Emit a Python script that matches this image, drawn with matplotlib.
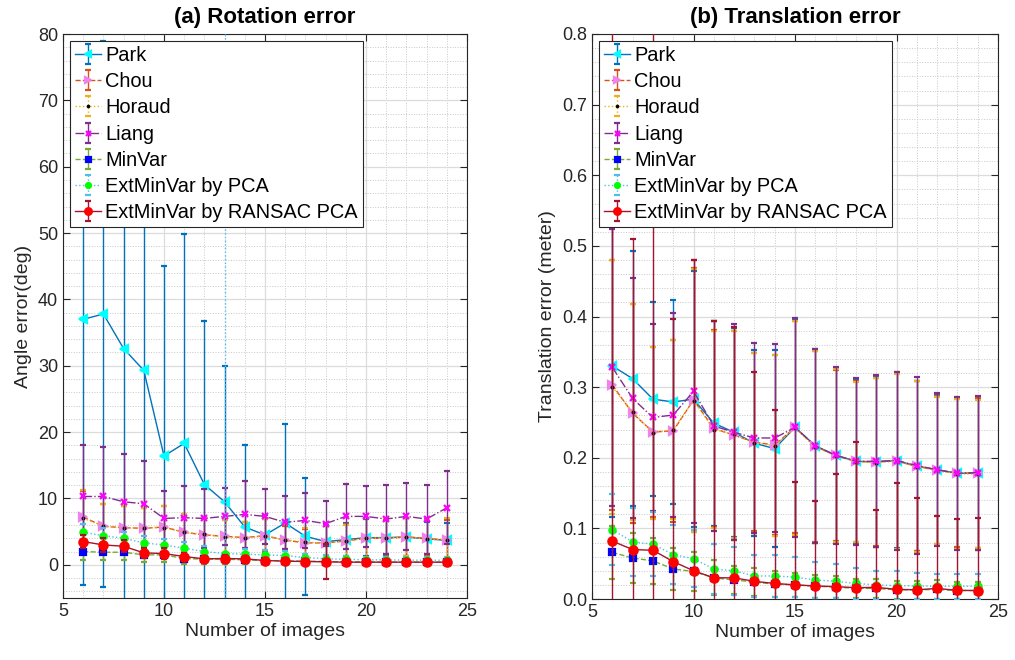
import numpy as np
import matplotlib.pyplot as plt
from matplotlib.ticker import MultipleLocator

plt.rcParams['font.family'] = ['Liberation Sans', 'DejaVu Sans']

# number of images used for calibration
n_images = list(range(6, 25))

# ---- rotation error (deg): mean and std ----
park_rot = [37.0, 37.8, 32.6, 29.3, 16.4, 18.3, 12.1, 9.5, 5.7, 4.5, 6.3, 4.3, 3.5, 3.8, 4.1, 4.1, 4.2, 3.9, 3.7]
park_rot_std = [40.0, 41.2, 45.0, 40.0, 28.6, 31.6, 24.7, 20.5, 12.3, 3.0, 14.9, 8.8, 2.5, 2.5, 2.8, 2.8, 2.8, 2.6, 2.6]
chou_rot = [7.2, 5.8, 5.6, 5.5, 5.7, 4.9, 4.5, 4.3, 4.1, 4.4, 3.7, 3.3, 3.3, 3.6, 4.0, 4.0, 4.2, 4.0, 3.7]
chou_rot_std = [4.0, 3.4, 3.2, 3.0, 3.2, 2.8, 2.6, 2.5, 2.4, 2.5, 2.2, 2.1, 2.5, 2.5, 3.0, 2.8, 2.8, 2.7, 3.1]
horaud_rot = [7.0, 5.9, 5.5, 5.6, 5.6, 4.9, 4.6, 4.2, 4.1, 4.3, 3.8, 3.4, 3.3, 3.6, 4.0, 4.1, 4.2, 3.9, 3.8]
horaud_rot_std = [4.3, 3.3, 3.3, 2.9, 3.3, 2.8, 2.6, 2.5, 2.4, 2.6, 2.3, 2.1, 2.6, 2.4, 3.0, 2.9, 2.8, 2.8, 3.2]
liang_rot = [10.3, 10.3, 9.5, 9.2, 7.0, 7.1, 7.0, 7.3, 7.6, 7.3, 6.4, 6.7, 6.2, 7.3, 7.3, 6.9, 7.3, 6.9, 8.6]
liang_rot_std = [7.8, 7.4, 7.2, 6.4, 4.2, 4.8, 4.4, 4.3, 5.1, 4.2, 4.0, 4.1, 3.4, 4.9, 4.6, 5.2, 5.0, 5.2, 5.5]
minvar_rot = [2.0, 1.9, 1.9, 1.5, 1.5, 0.95, 0.85, 0.85, 0.75, 0.65, 0.6, 0.55, 0.5, 0.45, 0.45, 0.4, 0.4, 0.4, 0.4]
minvar_rot_std = [1.2, 1.2, 1.1, 1.0, 1.0, 0.8, 0.7, 0.7, 0.6, 0.5, 0.5, 0.4, 0.4, 0.4, 0.35, 0.35, 0.35, 0.3, 0.3]
pca_rot = [4.9, 4.4, 4.0, 3.3, 3.0, 2.5, 2.0, 1.7, 1.6, 1.5, 1.4, 1.1, 0.9, 0.85, 0.75, 0.75, 0.7, 0.7, 0.7]
pca_rot_std = [1.2, 1.1, 1.0, 1.0, 0.9, 0.9, 0.8, 95.0, 0.8, 0.7, 0.7, 0.6, 0.6, 0.5, 0.5, 0.5, 0.5, 0.5, 0.5]
ransac_rot = [3.5, 3.0, 2.8, 1.8, 1.7, 1.25, 0.9, 0.95, 0.9, 0.65, 0.55, 0.5, 0.45, 0.4, 0.4, 0.4, 0.4, 0.4, 0.4]
ransac_rot_std = [1.0, 1.0, 0.9, 0.8, 0.8, 0.6, 0.5, 0.5, 0.5, 0.4, 0.4, 0.4, 2.65, 0.3, 0.3, 0.3, 0.3, 0.3, 0.3]

# ---- translation error (meter): mean and std ----
park_tr = [0.330, 0.312, 0.283, 0.279, 0.283, 0.249, 0.236, 0.2205, 0.213, 0.243, 0.217, 0.2035, 0.195, 0.194, 0.196, 0.188, 0.183, 0.178, 0.178]
park_tr_std = [0.214, 0.181, 0.137, 0.1445, 0.181, 0.145, 0.148, 0.132, 0.14, 0.154, 0.137, 0.124, 0.117, 0.12, 0.124, 0.12, 0.106, 0.106, 0.108]
chou_tr = [0.303, 0.263, 0.2365, 0.238, 0.282, 0.2415, 0.232, 0.222, 0.218, 0.243, 0.216, 0.2035, 0.195, 0.194, 0.196, 0.188, 0.183, 0.178, 0.178]
chou_tr_std = [0.177, 0.155, 0.12, 0.129, 0.187, 0.139, 0.148, 0.126, 0.127, 0.15, 0.135, 0.121, 0.114, 0.119, 0.125, 0.12, 0.105, 0.105, 0.106]
horaud_tr = [0.300, 0.265, 0.235, 0.240, 0.281, 0.240, 0.233, 0.221, 0.217, 0.242, 0.215, 0.203, 0.194, 0.193, 0.195, 0.187, 0.182, 0.177, 0.177]
horaud_tr_std = [0.18, 0.153, 0.122, 0.127, 0.186, 0.14, 0.147, 0.127, 0.128, 0.152, 0.136, 0.122, 0.113, 0.12, 0.124, 0.121, 0.104, 0.106, 0.105]
liang_tr = [0.328, 0.284, 0.257, 0.2605, 0.294, 0.245, 0.236, 0.228, 0.228, 0.243, 0.217, 0.2035, 0.195, 0.195, 0.196, 0.189, 0.183, 0.178, 0.179]
liang_tr_std = [0.196, 0.17, 0.133, 0.1445, 0.186, 0.149, 0.153, 0.134, 0.133, 0.155, 0.137, 0.125, 0.118, 0.122, 0.126, 0.125, 0.108, 0.108, 0.109]
minvar_tr = [0.066, 0.058, 0.054, 0.0425, 0.039, 0.030, 0.027, 0.024, 0.021, 0.020, 0.018, 0.017, 0.015, 0.015, 0.013, 0.013, 0.0135, 0.012, 0.012]
minvar_tr_std = [0.038, 0.035, 0.033, 0.03, 0.028, 0.025, 0.02, 0.02, 0.018, 0.017, 0.016, 0.015, 0.014, 0.014, 0.013, 0.013, 0.013, 0.012, 0.012]
pca_tr = [0.098, 0.081, 0.0775, 0.063, 0.057, 0.0425, 0.040, 0.0326, 0.0326, 0.031, 0.027, 0.025, 0.022, 0.020, 0.019, 0.0185, 0.018, 0.018, 0.018]
pca_tr_std = [0.05, 0.048, 0.045, 0.042, 0.04, 0.036, 0.034, 0.03, 0.03, 0.028, 0.026, 0.024, 0.022, 0.02, 0.02, 0.019, 0.018, 0.018, 0.018]
ransac_tr = [0.082, 0.070, 0.069, 0.053, 0.040, 0.030, 0.030, 0.025, 0.022, 0.020, 0.0185, 0.0175, 0.016, 0.0165, 0.0137, 0.013, 0.015, 0.0122, 0.012]
ransac_tr_std = [0.8, 0.44, 0.8, 0.344, 0.44, 0.364, 0.355, 0.296, 0.246, 0.145, 0.12, 0.159, 0.207, 0.109, 0.15, 0.13, 0.102, 0.101, 0.102]

method_names = ['Park', 'Chou', 'Horaud', 'Liang', 'MinVar', 'ExtMinVar by PCA', 'ExtMinVar by RANSAC PCA']

# line colour, line style, marker, marker colour, marker size
styles = [
    ('#0072BD', '-', '<', 'cyan', 6),
    ('#D95319', '--', '>', 'violet', 6),
    ('#EDB120', ':', '.', 'black', 2.5),
    ('#7E2F8E', '-.', 'x', 'magenta', 4.5),
    ('#77AC30', '--', 's', 'blue', 4.5),
    ('#4DBEEE', ':', 'o', 'lime', 4.5),
    ('#A2142F', '-', 'o', 'red', 6),
]


def draw_panel(ax, means, stds):
    for k, (m, s) in enumerate(zip(means, stds)):
        col, ls, mk, mcol, ms = styles[k]
        eb = ax.errorbar(n_images, m, yerr=s, color=col, ls=ls, lw=1.0,
                         marker=mk, ms=ms, mfc=mcol, mec=mcol, mew=1.6,
                         ecolor=col, elinewidth=1.0, capsize=2.5, capthick=1.0,
                         label=method_names[k], zorder=3 + k)
        if ls == ':':
            eb[2][0].set_linestyle(':')
    ax.set_xlim(5, 25)
    ax.xaxis.set_major_locator(MultipleLocator(5))
    ax.xaxis.set_minor_locator(MultipleLocator(1))
    ax.grid(True, which='major', color='#dcdcdc', lw=0.9)
    ax.grid(True, which='minor', color='#c8c8c8', lw=0.7, ls=':')
    ax.set_axisbelow(True)
    ax.tick_params(which='major', direction='in', top=True, right=True,
                   length=5, labelsize=13, colors='#262626')
    ax.tick_params(which='minor', length=0)
    for sp in ax.spines.values():
        sp.set_color('#262626')
        sp.set_linewidth(0.8)
    ax.set_xlabel('Number of images', fontsize=14, color='#262626', labelpad=2)
    leg = ax.legend(loc='upper left', bbox_to_anchor=(0.0, 1.0), borderaxespad=0.35,
                    fontsize=14.4, fancybox=False, framealpha=1, edgecolor='#262626',
                    handlelength=1.3, handletextpad=0.2, labelspacing=0.36,
                    borderpad=0.25, markerscale=0.8)
    leg.get_frame().set_linewidth(0.8)
    leg.set_zorder(20)


fig = plt.figure(figsize=(10.15, 6.6), dpi=100)
ax1 = fig.add_axes([63 / 1015, 62 / 660, 404 / 1015, 564 / 660])
ax2 = fig.add_axes([592 / 1015, 61 / 660, 406 / 1015, 565 / 660])

draw_panel(ax1,
           [park_rot, chou_rot, horaud_rot, liang_rot, minvar_rot, pca_rot, ransac_rot],
           [park_rot_std, chou_rot_std, horaud_rot_std, liang_rot_std, minvar_rot_std, pca_rot_std, ransac_rot_std])
ax1.set_ylim(-5, 80)
ax1.set_yticks(np.arange(0, 81, 10))
ax1.yaxis.set_minor_locator(MultipleLocator(2))
ax1.set_ylabel('Angle error(deg)', fontsize=14, color='#262626')
ax1.set_title('(a) Rotation error', fontsize=16, fontweight='bold', pad=8)

draw_panel(ax2,
           [park_tr, chou_tr, horaud_tr, liang_tr, minvar_tr, pca_tr, ransac_tr],
           [park_tr_std, chou_tr_std, horaud_tr_std, liang_tr_std, minvar_tr_std, pca_tr_std, ransac_tr_std])
ax2.set_ylim(0, 0.8)
ax2.set_yticks(np.arange(0, 0.81, 0.1))
ax2.yaxis.set_minor_locator(MultipleLocator(0.02))
ax2.set_ylabel('Translation error (meter)', fontsize=14, color='#262626')
ax2.set_title('(b) Translation error', fontsize=16, fontweight='bold', pad=8)

fig.savefig('out.png', dpi=100)
